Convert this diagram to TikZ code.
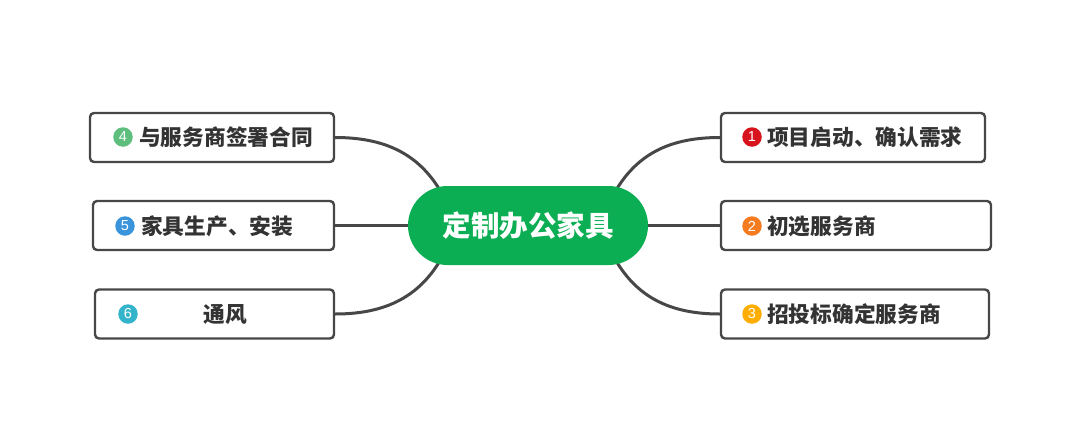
\documentclass[tikz,border=0pt]{standalone}
\usepackage{fontspec}
\setmainfont{Liberation Sans}
\newfontfamily\cjk{Noto Sans CJK SC}
\usetikzlibrary{backgrounds,calc}
\definecolor{ink}{HTML}{474747}
\definecolor{txt}{HTML}{333333}
\definecolor{hub}{HTML}{0BAE52}
\definecolor{cA}{HTML}{D7141E}
\definecolor{cB}{HTML}{F47B20}
\definecolor{cC}{HTML}{FFAE00}
\definecolor{cD}{HTML}{5DBE7E}
\definecolor{cE}{HTML}{3A94DB}
\definecolor{cF}{HTML}{34B4CB}
\begin{document}
\begin{tikzpicture}[x=1pt,y=-1pt,
  box/.style={draw=ink, line width=2.4pt, rounded corners=4pt, fill=white, minimum height=49pt, inner sep=0pt},
  badge/.style={circle, fill=#1, minimum size=19.5pt, inner sep=0pt, text=white, font=\fontsize{14.5}{14.5}\selectfont},
  lbl/.style={anchor=west, inner sep=0pt, text=txt, font=\cjk\bfseries\fontsize{21.7}{22}\selectfont},
  link/.style={draw=ink, line width=3pt}]
\useasboundingbox (0,0) rectangle (1080,445);
% hub
\node[fill=hub, rounded corners=39.5pt, minimum width=240pt, minimum height=79pt, inner sep=0pt,
      text=white, font=\cjk\bfseries\fontsize{28.5}{30}\selectfont] (c) at (528,225.5) {定制办公家具};
% right boxes
\node[box, minimum width=264pt] (b1) at (853,137.5) {};
\node[box, minimum width=270pt] (b2) at (856,225.5) {};
\node[box, minimum width=268pt] (b3) at (855,314) {};
% left boxes
\node[box, minimum width=244pt] (b4) at (212,137.5) {};
\node[box, minimum width=241pt] (b5) at (213.5,225.5) {};
\node[box, minimum width=239pt] (b6) at (214.5,314) {};
% badges
\node[badge=cA] (n1) at (752,137) {1};
\node[badge=cB] (n2) at (752,226) {2};
\node[badge=cC] (n3) at (752,314) {3};
\node[badge=cD] (n4) at (123,137) {4};
\node[badge=cE] (n5) at (125,226) {5};
\node[badge=cF] (n6) at (128,314) {6};
% labels
\node[lbl] (t1) at (767,137.5) {项目启动、确认需求};
\node[lbl] (t2) at (767,226) {初选服务商};
\node[lbl] (t3) at (767,314.5) {招投标确定服务商};
\node[lbl] (t4) at (139,137.5) {与服务商签署合同};
\node[lbl] (t5) at (141,226) {家具生产、安装};
\node[lbl, anchor=center] (t6) at (225,314.5) {通风};
% connectors
\begin{pgfonlayer}{background}
\draw[link] (b1.west) .. controls +(-55,0) and +(22,-48) .. ($(c.center)+(80,-20)$);
\draw[link] (b2.west) -- (c.center);
\draw[link] (b3.west) .. controls +(-55,0) and +(22,48) .. ($(c.center)+(80,20)$);
\draw[link] (b4.east) .. controls +(55,0) and +(-22,-48) .. ($(c.center)+(-80,-20)$);
\draw[link] (b5.east) -- (c.center);
\draw[link] (b6.east) .. controls +(55,0) and +(-22,48) .. ($(c.center)+(-80,20)$);
\end{pgfonlayer}
\end{tikzpicture}
\end{document}
